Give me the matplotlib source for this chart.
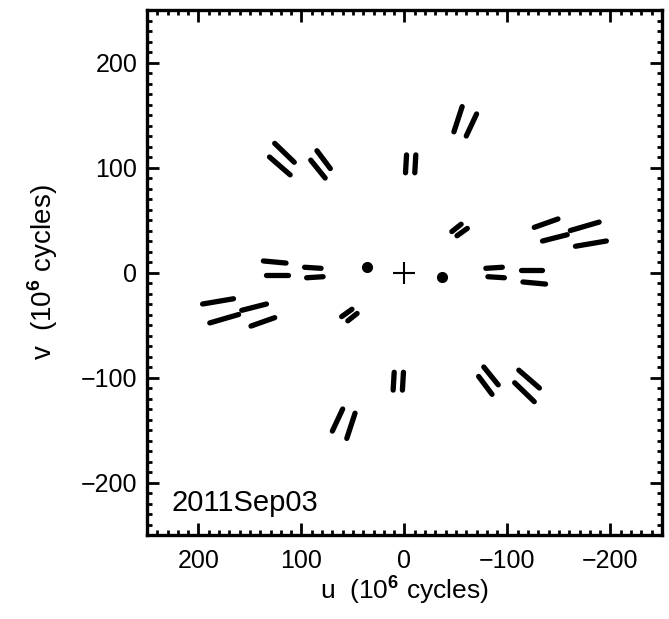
import matplotlib
matplotlib.use("Agg")
import matplotlib.pyplot as plt
from matplotlib.ticker import MultipleLocator

plt.rcParams['font.family'] = ['Liberation Sans', 'DejaVu Sans']
plt.rcParams['mathtext.fontset'] = 'custom'
plt.rcParams['mathtext.rm'] = 'Liberation Sans'
plt.rcParams['mathtext.bf'] = 'Liberation Sans:bold'

# uv tracks, 10^6 cycles: start and end of each segment
u_start = [-56, -70, 126, 131, 85, 91, -2, -11, -55, -61, -126, -134, -161, -166, 137, 134, 97, 95,
           56, 70, -126, -131, -85, -91, 2, 11, 55, 61, 126, 134, 161, 166, -137, -134, -97, -95]
v_start = [158, 151, 123, 110, 116, 107, 112, 112, 46, 42, 43, 30, 40, 25, 11, -2, 5, -5,
           -158, -151, -123, -110, -116, -107, -112, -112, -46, -42, -43, -30, -40, -25, -11, 2, -5, 5]
u_end = [-48, -60, 107, 111, 72, 77, -1, -10, -46, -51, -149, -158, -189, -196, 115, 113, 81, 79,
         48, 60, -107, -111, -72, -77, 1, 10, 46, 51, 149, 158, 189, 196, -115, -113, -81, -79]
v_end = [134, 130, 105, 93, 99, 90, 95, 95, 39, 35, 51, 36, 48, 30, 9, -2, 4, -4,
         -134, -130, -105, -93, -99, -90, -95, -95, -39, -35, -51, -36, -48, -30, -9, 2, -4, 4]

# short baselines that show up as blobs
dot_u = [36, -36]
dot_v = [5, -4.5]

date_label = "2011Sep03"

fig = plt.figure(figsize=(6.69, 6.19), dpi=100)
ax = fig.add_axes([0.2197, 0.1357, 0.7698, 0.8481])

for i in range(len(u_start)):
    ax.plot([u_start[i], u_end[i]], [v_start[i], v_end[i]], color='black',
            linewidth=3.8, solid_capstyle='round')

ax.plot(dot_u, dot_v, linestyle='none', marker='o', markersize=7, color='black')

ax.plot([0], [0], marker='+', markersize=16, markeredgewidth=1.5, color='black')

ax.text(226, -227, date_label, fontsize=21, ha='left', va='baseline')

ax.set_xlim(250, -250)
ax.set_ylim(-250, 250)
ax.xaxis.set_major_locator(MultipleLocator(100))
ax.yaxis.set_major_locator(MultipleLocator(100))
ax.xaxis.set_minor_locator(MultipleLocator(10))
ax.yaxis.set_minor_locator(MultipleLocator(10))
ax.tick_params(which='both', direction='in', top=True, right=True, labelsize=18)
ax.tick_params(which='major', length=8.5, width=2)
ax.tick_params(which='minor', length=3.5, width=2)
ax.tick_params(axis='x', pad=10)
ax.tick_params(axis='y', pad=7)
for s in ax.spines.values():
    s.set_linewidth(2.4)

ax.set_xlabel(r'u  (10$^{\mathbf{6}}$ cycles)', fontsize=19, labelpad=0)
ax.set_ylabel(r'v  (10$^{\mathbf{6}}$ cycles)', fontsize=20, labelpad=15)

fig.savefig('out.png', dpi=100)
